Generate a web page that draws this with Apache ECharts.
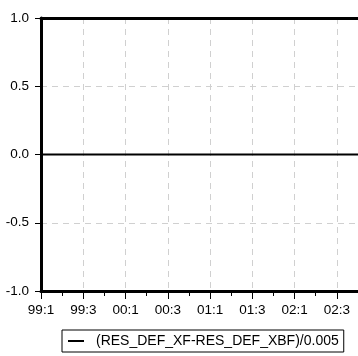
<!DOCTYPE html>
<html>
<head>
<meta charset="utf-8">
<script src="https://cdn.jsdelivr.net/npm/echarts@6/dist/echarts.min.js"></script>
<style>
  html, body { margin: 0; padding: 0; background: #fff; }
  #chart { width: 358px; height: 356px; }
</style>
</head>
<body>
<div id="chart"></div>
<script>
// Quarterly periods, 1999Q1 through 2002Q4
const quarters = ['99:1','99:2','99:3','99:4','00:1','00:2','00:3','00:4',
                  '01:1','01:2','01:3','01:4','02:1','02:2','02:3','02:4'];
const seriesName = '(RES_DEF_XF-RES_DEF_XBF)/0.005';
const seriesValues = [0,0,0,0,0,0,0,0,0,0,0,0,0,0,0,0];
const yTicks = { min: -1, max: 1, step: 0.5 };

const font = 'Liberation Sans, Arial, sans-serif';
const chart = echarts.init(document.getElementById('chart'), null, { renderer: 'canvas' });

chart.setOption({
  animation: false,
  backgroundColor: '#fff',
  grid: { left: 41, right: 0, top: 18, bottom: 65, containLabel: false },
  legend: {
    data: [{ name: seriesName, icon: 'rect' }],
    left: 62, top: 330,
    padding: [4, 5, 4, 6],
    itemWidth: 16, itemHeight: 2,
    borderColor: '#000', borderWidth: 1, borderRadius: 0,
    textStyle: { fontFamily: font, fontSize: 14, color: '#000', padding: [0, 0, 0, 7] },
    itemStyle: { color: '#000', borderWidth: 0 }
  },
  xAxis: [
    {
      type: 'category', data: quarters, boundaryGap: false,
      axisLine: { onZero: false, lineStyle: { color: '#000', width: 3 } },
      axisTick: { show: true, interval: 0, length: 5, lineStyle: { color: '#000', width: 1 } },
      axisLabel: { interval: 1, color: '#000', fontFamily: font, fontSize: 13.5, margin: 12 },
      splitLine: { show: true, interval: 1, lineStyle: { color: '#d0d0d0', type: [6, 5], width: 1 } }
    },
    {
      type: 'category', data: quarters, boundaryGap: false, position: 'bottom',
      axisLine: { show: false, onZero: false },
      axisTick: { show: true, interval: 1, length: 8, lineStyle: { color: '#000', width: 1 } },
      axisLabel: { show: false },
      splitLine: { show: false }
    },
    {
      type: 'category', data: quarters, boundaryGap: false, position: 'top',
      axisLine: { show: true, onZero: false, lineStyle: { color: '#000', width: 3 } },
      axisTick: { show: false }, axisLabel: { show: false }, splitLine: { show: false }
    }
  ],
  yAxis: {
    type: 'value', min: yTicks.min, max: yTicks.max, interval: yTicks.step,
    axisLine: { show: true, onZero: false, lineStyle: { color: '#000', width: 3 } },
    axisTick: { show: true, length: 6, lineStyle: { color: '#000', width: 1 } },
    axisLabel: { color: '#000', fontFamily: font, fontSize: 13.5, margin: 12,
                 formatter: v => v.toFixed(1) },
    splitLine: { show: true, lineStyle: { color: '#d0d0d0', type: [6, 5], width: 1 } }
  },
  series: [{
    name: seriesName, type: 'line', data: seriesValues,
    xAxisIndex: 0, showSymbol: false, symbol: 'none',
    lineStyle: { color: '#000', width: 2 },
    itemStyle: { color: '#000' }
  }]
});
</script>
</body>
</html>
